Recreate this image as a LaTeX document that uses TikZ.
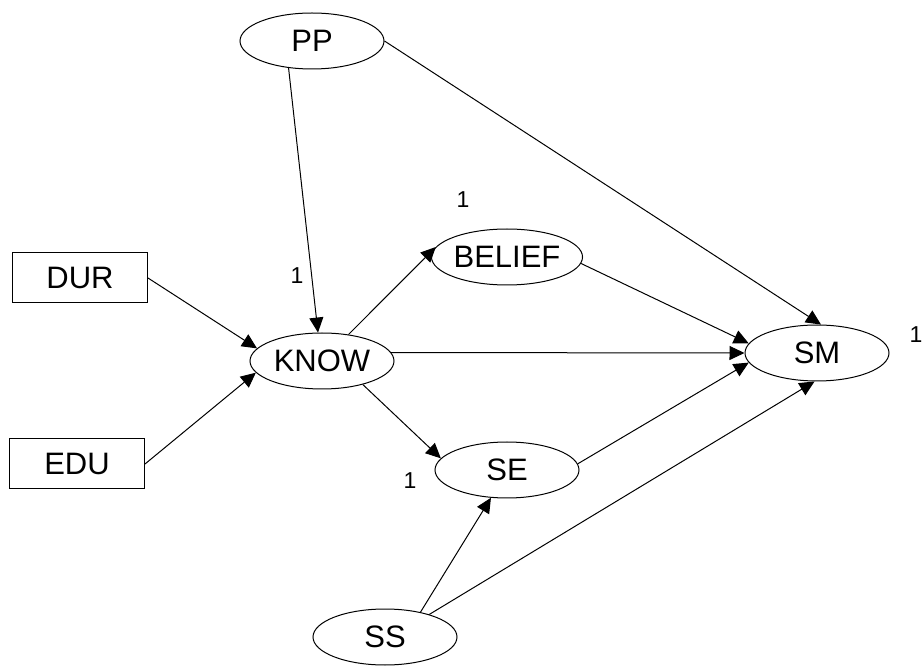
\documentclass[tikz,border=0pt]{standalone}
\usepackage{fontspec}
\setmainfont{Liberation Sans}
\usetikzlibrary{arrows.meta}
\usetikzlibrary{shapes.geometric}

\begin{document}
\begin{tikzpicture}[x=0.5pt,y=-0.5pt,->,>={Triangle[length=7.5pt,width=7pt]},line width=0.5pt,
    latent node/.style={ellipse,draw,inner sep=0pt,minimum width=72pt,minimum height=28pt,font=\fontsize{15.5}{18}\selectfont},
    observed node/.style={rectangle,draw,inner sep=0pt,minimum width=67.5pt,minimum height=25pt,font=\fontsize{15.5}{18}\selectfont},
    small label/.style={inner sep=0pt,font=\fontsize{11.5}{13}\selectfont}]
   \useasboundingbox (0,0) rectangle (922,668);
   % variables
   \node[latent node] (pp) at (312,41) {PP};
   \node[observed node] (dur) at (80,278) {DUR};
   \node[observed node] (edu) at (77,464) {EDU};
   \node[latent node] (know) at (322,361) {KNOW};
   \node[latent node] (belief) at (507,257) {BELIEF};
   \node[latent node] (se) at (507,470) {SE};
   \node[latent node] (sm) at (817,353) {SM};
   \node[latent node] (ss) at (385,637) {SS};
   % fixed paths
   \node[small label] (l1) at (297,276) {1};
   \node[small label] (l2) at (463,200) {1};
   \node[small label] (l3) at (410,481) {1};
   \node[small label] (l4) at (916,335) {1};
   % regression paths
   \path (pp.229) edge (know.98);
   \path (pp.east) edge (sm.82);
   \path (dur.east) edge (know.169);
   \path (edu.east) edge (know.190);
   \path (know.45) edge (belief.172);
   \path (know.7) edge (sm.west);
   \path (know.330) edge (se.170);
   \path (belief.355) edge (sm.172);
   \path (se.5) edge (sm.188);
   \path (ss.35) edge (se.240);
   \path (ss.27) edge (sm.265);
  \end{tikzpicture}
\end{document}
